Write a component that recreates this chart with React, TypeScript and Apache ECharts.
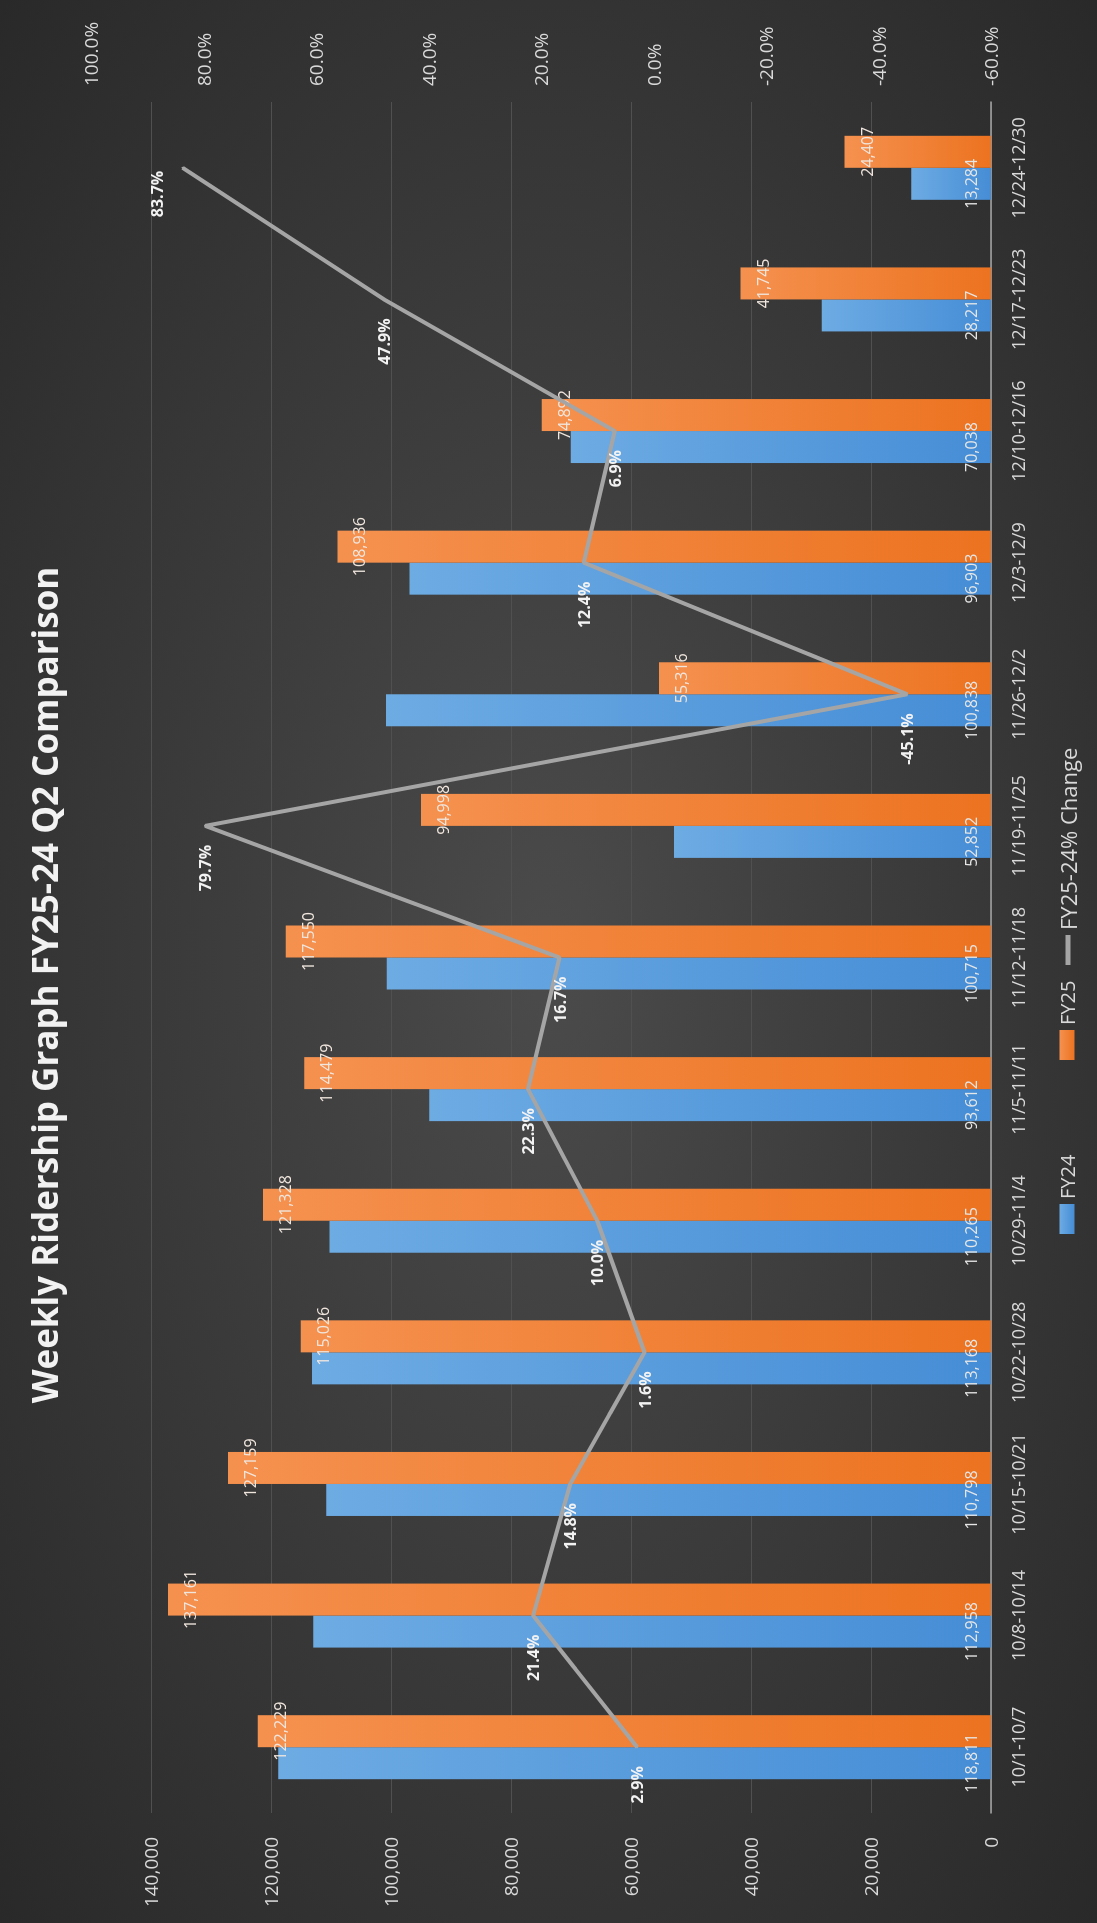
import React, { useEffect, useRef } from "react";
import * as echarts from "echarts";

const categories = [
  "10/1-10/7", "10/8-10/14", "10/15-10/21", "10/22-10/28", "10/29-11/4",
  "11/5-11/11", "11/12-11/18", "11/19-11/25", "11/26-12/2", "12/3-12/9",
  "12/10-12/16", "12/17-12/23", "12/24-12/30",
];
const fy24 = [118811, 112958, 110798, 113168, 110265, 93612, 100715, 52852, 100838, 96903, 70038, 28217, 13284];
const fy25 = [122229, 137161, 127159, 115026, 121328, 114479, 117550, 94998, 55316, 108936, 74892, 41745, 24407];
const pctChange = [2.9, 21.4, 14.8, 1.6, 10.0, 22.3, 16.7, 79.7, -45.1, 12.4, 6.9, 47.9, 83.7];

const TITLE = "Weekly Ridership Graph FY25-24 Q2 Comparison";
const FONT = "'Open Sans', 'Noto Sans', sans-serif";

const W = 1923;
const H = 1097;

export default function App() {
  const ref = useRef<HTMLDivElement>(null);

  useEffect(() => {
    document.body.style.overflow = "hidden";
    if (!ref.current) return;
    const chart = echarts.init(ref.current, null, { renderer: "svg" });
    const fmt = (v: number) => v.toLocaleString("en-US");
    const lineData = pctChange.map((v, i) =>
      i === pctChange.length - 1 ? { value: v, label: { offset: [16, -26] } } : v
    );
    const legendBase = {
      top: 1052,
      itemWidth: 30,
      itemHeight: 15,
      symbolKeepAspect: true,
      textStyle: { color: "#d9d9d9", fontSize: 20, fontFamily: FONT },
    };
    chart.setOption({
      animation: false,
      backgroundColor: new echarts.graphic.RadialGradient(0.5, 0.5, 0.75, [
        { offset: 0, color: "#4b4b4b" },
        { offset: 1, color: "#272727" },
      ]),
      textStyle: { fontFamily: FONT },
      title: {
        text: TITLE,
        left: 933,
        top: 22,
        textAlign: "center",
        textStyle: { color: "#f2f2f2", fontSize: 35, fontWeight: "bold", fontFamily: FONT },
      },
      legend: [
        { ...legendBase, left: 684, data: [{ name: "FY24", icon: "rect" }] },
        { ...legendBase, left: 858, data: [{ name: "FY25", icon: "rect" }] },
        {
          ...legendBase,
          left: 953,
          textStyle: { color: "#d9d9d9", fontSize: 22, fontFamily: FONT },
          data: [{ name: "FY25-24% Change", icon: "path://M0,0 L30,0 L30,5 L0,5 Z" }],
        },
      ],
      grid: { left: 110, right: 102, top: 91, bottom: 106, containLabel: false },
      xAxis: {
        type: "category",
        data: categories,
        axisLine: { show: true, lineStyle: { color: "#a6a6a6", width: 1.5 } },
        axisTick: { show: false },
        axisLabel: { color: "#d9d9d9", fontSize: 18, margin: 18, interval: 0, fontFamily: FONT },
      },
      yAxis: [
        {
          type: "value",
          min: 0,
          max: 150000,
          interval: 20000,
          axisLine: { show: false },
          axisTick: { show: false },
          splitLine: { show: true, showMaxLine: false, lineStyle: { color: "#505050", width: 1 } },
          axisLabel: {
            color: "#d9d9d9",
            fontSize: 19,
            margin: 24,
            fontFamily: FONT,
            formatter: (v: number) => (v > 140000 ? "" : fmt(v)),
          },
        },
        {
          type: "value",
          min: -60,
          max: 100,
          interval: 20,
          axisLine: { show: false },
          axisTick: { show: false },
          splitLine: { show: false },
          axisLabel: {
            color: "#d9d9d9",
            fontSize: 19,
            margin: 16,
            fontFamily: FONT,
            formatter: (v: number) => v.toFixed(1) + "%",
          },
        },
      ],
      series: [
        {
          name: "FY24",
          type: "bar",
          data: fy24,
          barWidth: 32,
          barGap: "0%",
          itemStyle: {
            color: new echarts.graphic.LinearGradient(0, 0, 0, 1, [
              { offset: 0, color: "#6dabe3" },
              { offset: 1, color: "#458dd6" },
            ]),
          },
          label: {
            show: true,
            position: "insideBottom",
            distance: 12,
            color: "#e6e6e6",
            fontSize: 16,
            fontFamily: FONT,
            formatter: (p: any) => fmt(p.value),
          },
        },
        {
          name: "FY25",
          type: "bar",
          data: fy25,
          barWidth: 32,
          barGap: "0%",
          itemStyle: {
            color: new echarts.graphic.LinearGradient(0, 0, 0, 1, [
              { offset: 0, color: "#f5914f" },
              { offset: 1, color: "#ec7320" },
            ]),
          },
          label: {
            show: true,
            position: "insideTop",
            distance: 14,
            color: "#f0e6de",
            fontSize: 16,
            fontFamily: FONT,
            formatter: (p: any) => fmt(p.value),
          },
        },
        {
          name: "FY25-24% Change",
          type: "line",
          yAxisIndex: 1,
          data: lineData,
          symbol: "circle",
          symbolSize: 2,
          showSymbol: true,
          itemStyle: { color: "#a5a5a5" },
          lineStyle: { color: "#a5a5a5", width: 4 },
          label: {
            show: true,
            position: "left",
            distance: 18,
            color: "#f2f2f2",
            fontSize: 16,
            fontWeight: "bold",
            fontFamily: FONT,
            formatter: (p: any) => Number(p.value).toFixed(1) + "%",
          },
          z: 5,
        },
      ],
    });
    return () => chart.dispose();
  }, []);

  return (
    <div
      ref={ref}
      style={{
        position: "fixed",
        left: 0,
        top: 0,
        width: W,
        height: H,
        transformOrigin: "0 0",
        transform: `translateY(${W}px) rotate(-90deg)`,
      }}
    />
  );
}
